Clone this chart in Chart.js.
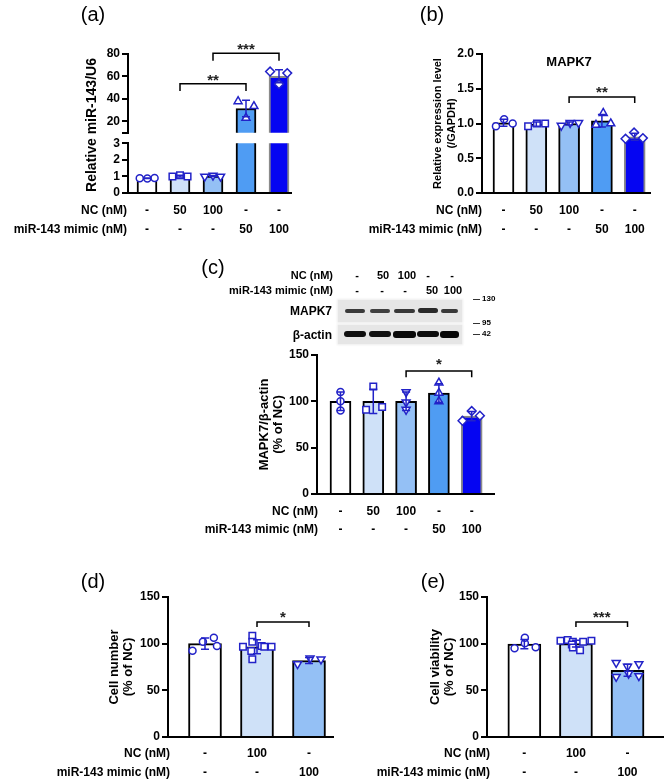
<!DOCTYPE html>
<html><head><meta charset="utf-8">
<script src="https://cdn.jsdelivr.net/npm/chart.js@4.4.1/dist/chart.umd.min.js"></script>
<style>
html,body{margin:0;padding:0;background:#fff;}
#wrap{position:relative;width:670px;height:783px;overflow:hidden;background:#fff;}
#wrap canvas{position:absolute;left:0;top:0;}
.box{position:absolute;background:#e6e6e6;box-shadow:0 0 2px 1px #ededed;}
.band{position:absolute;border-radius:3px;filter:blur(0.7px);}
.mk{position:absolute;height:1.5px;background:#333;}
</style></head>
<body><div id="wrap">
<div class="box" style="left:338px;top:300px;width:124px;height:22px"></div>
<div class="box" style="left:338px;top:325px;width:124px;height:19px"></div>
<div class="band" style="left:345px;top:308.5px;width:20px;height:4px;background:#3a3a3a"></div>
<div class="band" style="left:370px;top:309px;width:20px;height:3.5px;background:#404040"></div>
<div class="band" style="left:394px;top:308.5px;width:21px;height:4px;background:#383838"></div>
<div class="band" style="left:418px;top:308px;width:20px;height:4.5px;background:#2a2a2a"></div>
<div class="band" style="left:441px;top:308.5px;width:17px;height:4px;background:#3a3a3a"></div>
<div class="band" style="left:344px;top:331px;width:22px;height:6px;background:#0f0f0f"></div>
<div class="band" style="left:369px;top:331px;width:22px;height:6px;background:#111"></div>
<div class="band" style="left:393px;top:330.5px;width:23px;height:7px;background:#0a0a0a"></div>
<div class="band" style="left:417px;top:331px;width:22px;height:6px;background:#0d0d0d"></div>
<div class="band" style="left:440px;top:330.5px;width:19px;height:7px;background:#080808"></div>
<div class="mk" style="left:473px;top:298.5px;width:7px"></div>
<div class="mk" style="left:473px;top:322.5px;width:7px"></div>
<div class="mk" style="left:473px;top:333.5px;width:7px"></div>
</div>
<script>
const FONT = '"Liberation Sans", Arial, Helvetica, sans-serif';
const BLUE = '#2222c8';

// ---------- shared category rows ----------
const ncLabels5 = ['-', '50', '100', '-', '-'];
const mimicLabels5 = ['-', '-', '-', '50', '100'];
const ncLabels3 = ['-', '100', '-'];
const mimicLabels3 = ['-', '-', '100'];

// ---------- (a) relative miR-143/U6 ----------
const aMean = [0.89, 1.02, 1.02, 31.5, 60.2];
const aSD = [0.01, 0.05, 0.03, 7.4, 5.8];
const aPts = [[0.89, 0.88, 0.90], [0.99, 1.07, 0.99], [1.00, 1.06, 1.00], [37.9, 23.2, 33.5], [64.4, 53.3, 63.0]];
const aJit = [[-0.22, 0.01, 0.23], [-0.23, 0, 0.23], [-0.25, 0, 0.23], [-0.24, 0, 0.24], [-0.27, 0, 0.25]];
const aTopTicks = [10, 20, 40, 60, 80];
const aTopTickLabels = ['', '20', '40', '60', '80'];
const aBotTicks = [0, 1, 2, 3];
const aBotTickLabels = ['0', '1', '2', '3'];

// ---------- (b) MAPK7 mRNA ----------
const bMean = [1.01, 0.99, 1.00, 1.04, 0.81];
const bSD = [0.05, 0.03, 0.02, 0.09, 0.05];
const bPts = [[0.96, 1.06, 1.00], [0.96, 1.00, 1.00], [0.97, 1.01, 1.01], [0.98, 1.15, 1.00], [0.78, 0.87, 0.79]];
const bJit = [[-0.23, 0.02, 0.28], [-0.25, 0.02, 0.27], [-0.24, 0.03, 0.29], [-0.18, 0.04, 0.27], [-0.28, -0.02, 0.25]];
const bTicks = [0, 0.5, 1, 1.5, 2];
const bTickLabels = ['0.0', '0.5', '1.0', '1.5', '2.0'];

// ---------- (c) MAPK7/beta-actin ----------
const cMean = [100, 100, 100, 109, 84];
const cSD = [10, 13, 10, 10, 5];
const cPts = [[110, 100, 90], [116, 91, 94], [110, 99, 91], [120, 109, 100], [79, 89.5, 84.5]];
const cJit = [[0, 0, 0], [0, -0.22, 0.27], [0, 0, 0], [0, 0, 0], [-0.28, 0, 0.25]];
const pctTicks = [0, 50, 100, 150];
const pctTickLabels = ['0', '50', '100', '150'];

// ---------- (d) cell number ----------
const dMean = [100, 96.7, 82];
const dSD = [6, 7.5, 3.2];
const dPts = [[92.5, 102.1, 106.4, 97.5], [96.8, 108.6, 102.1, 92.1, 83.2, 97.5, 96.8, 96.8], [78.2, 84.3, 83.2]];
const dJit = [[-0.24, -0.04, 0.17, 0.23], [-0.27, -0.09, -0.09, -0.11, -0.09, 0.09, 0.14, 0.28], [-0.22, 0.02, 0.23]];

// ---------- (e) cell viability ----------
const eMean = [99.5, 100, 71.5];
const eSD = [5, 3.7, 6.5];
const ePts = [[95, 100.4, 106.4, 96.1], [103, 104, 102, 99, 96, 93, 102, 103], [79.6, 75.4, 78.2, 64.6, 68, 65.4]];
const eJit = [[-0.19, 0.01, 0.01, 0.22], [-0.3, -0.16, -0.06, -0.08, -0.06, 0.08, 0.14, 0.3], [-0.22, 0, 0.22, -0.22, 0.02, 0.22]];

// ---------- styles ----------
const FILL5 = ['#ffffff', '#cfe1f8', '#94c0f5', '#4f9cf3', '#0505f2'];
const EDGE5 = ['#000', '#000', '#000', '#000', '#8a8a8a'];
const FILL3 = ['#ffffff', '#cfe1f8', '#94c0f5'];
const EDGE3 = ['#000', '#000', '#000'];
const SHAPES5 = ['circle', 'rect', 'triangle', 'triangle', 'rectRot'];
const ROT5 = [0, 0, 180, 0, 0];
const SHAPES3 = ['circle', 'rect', 'triangle'];
const ROT3 = [0, 0, 180];
const RAD = {circle: 3.5, rect: 4.6, triangle: 4.6, rectRot: 4.4};

const wrap = document.getElementById('wrap');
const W = 670, H = 783, AXW = 40;

function annot(o) {
  return {
    id: 'annot',
    afterDatasetsDraw(chart) {
      const {ctx, chartArea: ca, scales: {x, y}} = chart;
      ctx.save();
      if (o.ptClip) {
        const c = o.ptClip;
        ctx.beginPath();
        ctx.rect(ca.left - c.left, ca.top - c.top, ca.right - ca.left + c.left + c.right, ca.bottom - ca.top + c.top + c.bottom);
        ctx.clip();
      }
      ctx.strokeStyle = BLUE; ctx.lineWidth = 1.5;
      const cap = o.cap || 4;
      o.mean.forEach((m, i) => {
        const px = x.getPixelForValue(i);
        const yt = y.getPixelForValue(m + o.sd[i]);
        const yb = y.getPixelForValue(m - o.sd[i]);
        ctx.beginPath();
        ctx.moveTo(px, yt); ctx.lineTo(px, yb);
        ctx.moveTo(px - cap, yt); ctx.lineTo(px + cap, yt);
        ctx.moveTo(px - cap, yb); ctx.lineTo(px + cap, yb);
        ctx.stroke();
      });
      ctx.restore();
    },
    afterDraw(chart) {
      const {ctx, chartArea: ca, scales: {x, y}} = chart;
      ctx.save();
      // significance brackets
      (o.brackets || []).forEach(b => {
        const x1 = x.getPixelForValue(b.from), x2 = x.getPixelForValue(b.to);
        const yl = y.getPixelForValue(b.level), yg = y.getPixelForValue(b.leg);
        ctx.strokeStyle = '#000'; ctx.lineWidth = 1.5;
        ctx.beginPath();
        ctx.moveTo(x1, yg); ctx.lineTo(x1, yl); ctx.lineTo(x2, yl); ctx.lineTo(x2, yg);
        ctx.stroke();
        const fs = 15;
        ctx.fillStyle = '#222';
        ctx.font = 'bold ' + fs + 'px ' + FONT;
        ctx.textAlign = 'center'; ctx.textBaseline = 'alphabetic';
        ctx.fillText(b.text, (x1 + x2) / 2, yl - (o.starGap || 8.5) + 0.57 * fs);
      });
      // category rows under the x axis
      if (o.rows) {
        ctx.fillStyle = '#000';
        ctx.font = 'bold 12px ' + FONT;
        ctx.textBaseline = 'middle';
        o.rows.forEach((row, r) => {
          const ry = ca.bottom + o.rowDy[r];
          ctx.textAlign = 'right';
          ctx.fillText(row.title, ca.left + (o.rowTitleDx || 0), ry);
          ctx.textAlign = 'center';
          row.labels.forEach((t, i) => ctx.fillText(t, x.getPixelForValue(i), ry));
        });
      }
      // rotated y title
      if (o.yTitle) {
        const t = o.yTitle;
        ctx.fillStyle = '#000';
        ctx.font = 'bold ' + t.size + 'px ' + FONT;
        ctx.textAlign = 'center'; ctx.textBaseline = 'middle';
        ctx.translate(t.cx, t.cy);
        ctx.rotate(-Math.PI / 2);
        const k = t.lines.length;
        t.lines.forEach((ln, j) => ctx.fillText(ln, 0, (j - (k - 1) / 2) * t.lh));
        ctx.setTransform(1, 0, 0, 1, 0, 0);
      }
      if (o.inner) {
        ctx.fillStyle = '#000';
        ctx.font = 'bold 13px ' + FONT;
        ctx.textAlign = 'center'; ctx.textBaseline = 'middle';
        ctx.fillText(o.inner.text, x.getPixelForValue(o.inner.x), y.getPixelForValue(o.inner.y));
      }
      ctx.restore();
    }
  };
}

function panel(o) {
  const cv = document.createElement('canvas');
  cv.width = W; cv.height = H;
  cv.style.width = W + 'px'; cv.style.height = H + 'px';
  wrap.appendChild(cv);
  const ds = [{
    type: 'bar', order: 2,
    data: o.mean.map((m, i) => ({x: i, y: m})),
    backgroundColor: o.fill, borderColor: o.edge, borderWidth: 2,
    borderSkipped: 'start', barThickness: o.barW,
    clip: o.barClip || false
  }];
  o.pts.forEach((arr, i) => {
    ds.push({
      type: 'scatter', order: 1, showLine: false,
      data: arr.map((v, j) => ({x: i + o.jit[i][j], y: v})),
      pointStyle: o.shapes[i], rotation: o.rot[i],
      pointRadius: RAD[o.shapes[i]], pointBorderWidth: 1.5,
      pointBorderColor: BLUE, pointBackgroundColor: '#ffffff',
      clip: o.ptClip || false
    });
  });
  return new Chart(cv, {
    type: 'bar',
    data: {datasets: ds},
    options: {
      responsive: false, animation: false, devicePixelRatio: 1, events: [],
      layout: {padding: {left: o.area.l - AXW, right: W - o.area.r, top: o.area.t, bottom: H - o.area.b}},
      plugins: {legend: {display: false}, tooltip: {enabled: false}},
      scales: {
        x: {
          type: 'linear', bounds: 'data', offset: false, min: o.xMin, max: o.xMax,
          grid: {display: false}, ticks: {display: false},
          border: {display: o.xAxis !== false, color: '#000', width: 2},
          afterFit: s => { s.height = 0; }
        },
        y: {
          type: 'linear', bounds: 'data', min: o.yMin, max: o.yMax,
          afterBuildTicks: s => { s.ticks = o.yTicks.map(v => ({value: v})); },
          ticks: {color: '#000', padding: 2, autoSkip: false, font: {family: FONT, size: 12, weight: 'bold'},
                  callback: (v, i) => o.yTickLabels[i]},
          grid: {display: true, drawOnChartArea: false, drawTicks: true, tickLength: 6, color: '#000', lineWidth: 2},
          border: {display: true, color: '#000', width: 2},
          afterFit: s => { s.width = AXW; }
        }
      }
    },
    plugins: [annot(o)]
  });
}

const rows5 = [{title: 'NC (nM)', labels: ncLabels5}, {title: 'miR-143 mimic (nM)', labels: mimicLabels5}];
const rows3 = [{title: 'NC (nM)', labels: ncLabels3}, {title: 'miR-143 mimic (nM)', labels: mimicLabels3}];
const common5 = {fill: FILL5, edge: EDGE5, shapes: SHAPES5, rot: ROT5};
const common3 = {fill: FILL3, edge: EDGE3, shapes: SHAPES3, rot: ROT3};

// (a) upper segment
panel(Object.assign({}, common5, {
  area: {l: 128, r: 291, t: 54, b: 132.7}, xMin: -0.5758, xMax: 4.3636, yMin: 10, yMax: 80,
  yTicks: aTopTicks, yTickLabels: aTopTickLabels, xAxis: false, barW: 20,
  mean: aMean, sd: aSD, pts: aPts, jit: aJit,
  barClip: {left: 5, right: 5, top: 5, bottom: 0}, ptClip: {left: 20, right: 20, top: 30, bottom: 0},
  brackets: [{from: 1, to: 3, level: 53.5, leg: 47, text: '**'}, {from: 2, to: 4, level: 80.6, leg: 74, text: '***'}],
  starGap: 7.5
}));
// (a) lower segment
panel(Object.assign({}, common5, {
  area: {l: 128, r: 291, t: 143.3, b: 193}, xMin: -0.5758, xMax: 4.3636, yMin: 0, yMax: 3,
  yTicks: aBotTicks, yTickLabels: aBotTickLabels, barW: 20,
  mean: aMean, sd: aSD, pts: aPts, jit: aJit,
  barClip: {left: 5, right: 5, top: 0, bottom: 5}, ptClip: {left: 20, right: 20, top: 0, bottom: 20},
  rows: rows5, rowDy: [17.5, 37], rowTitleDx: -1,
  yTitle: {lines: ['Relative miR-143/U6'], cx: 92, cy: 125, size: 14, lh: 14}
}));
// (b)
panel(Object.assign({}, common5, {
  area: {l: 482, r: 650, t: 54, b: 193}, xMin: -0.655, xMax: 4.466, yMin: 0, yMax: 2,
  yTicks: bTicks, yTickLabels: bTickLabels, barW: 21,
  mean: bMean, sd: bSD, pts: bPts, jit: bJit,
  brackets: [{from: 2, to: 4, level: 1.38, leg: 1.295, text: '**'}], starGap: 9,
  rows: rows5, rowDy: [17.5, 37],
  yTitle: {lines: ['Relative expression level', '(/GAPDH)'], cx: 445, cy: 123.5, size: 11, lh: 13.5},
  inner: {text: 'MAPK7', x: 2, y: 1.885}
}));
// (c)
panel(Object.assign({}, common5, {
  area: {l: 317, r: 494, t: 355, b: 494}, xMin: -0.716, xMax: 4.68, yMin: 0, yMax: 150,
  yTicks: pctTicks, yTickLabels: pctTickLabels, barW: 21,
  mean: cMean, sd: cSD, pts: cPts, jit: cJit,
  brackets: [{from: 2, to: 4, level: 132.7, leg: 126, text: '*'}], starGap: 11,
  rows: rows5, rowDy: [18, 36], rowTitleDx: 1,
  yTitle: {lines: ['MAPK7/β-actin', '(% of NC)'], cx: 271.5, cy: 424.5, size: 13, lh: 13.5}
}));
// (d)
panel(Object.assign({}, common3, {
  area: {l: 168, r: 333, t: 597, b: 737}, xMin: -0.7115, xMax: 2.4615, yMin: 0, yMax: 150,
  yTicks: pctTicks, yTickLabels: pctTickLabels, barW: 33,
  mean: dMean, sd: dSD, pts: dPts, jit: dJit,
  brackets: [{from: 1, to: 2, level: 123.2, leg: 117.9, text: '*'}], starGap: 9,
  rows: rows3, rowDy: [17, 36], rowTitleDx: 2,
  yTitle: {lines: ['Cell number', '(% of NC)'], cx: 121.5, cy: 667, size: 13, lh: 13.5}
}));
// (e)
panel(Object.assign({}, common3, {
  area: {l: 487, r: 667, t: 597, b: 737}, xMin: -0.724, xMax: 2.705, yMin: 0, yMax: 150,
  yTicks: pctTicks, yTickLabels: pctTickLabels, barW: 33,
  mean: eMean, sd: eSD, pts: ePts, jit: eJit,
  brackets: [{from: 1, to: 2, level: 123.2, leg: 117.9, text: '***'}], starGap: 9,
  rows: rows3, rowDy: [17, 36], rowTitleDx: 3,
  yTitle: {lines: ['Cell viability', '(% of NC)'], cx: 442.5, cy: 667, size: 13, lh: 14.5}
}));

// ---------- plain text (panel letters, blot labels) ----------
function addText(txt, x, y, size, weight, align) {
  const d = document.createElement('div');
  d.textContent = txt;
  const tx = align === 'right' ? '-100%' : align === 'left' ? '0' : '-50%';
  d.style.cssText = 'position:absolute;white-space:nowrap;line-height:1;color:#000;z-index:5;' +
    'font-family:' + FONT + ';font-size:' + size + 'px;font-weight:' + weight + ';' +
    'left:' + x + 'px;top:' + y + 'px;transform:translate(' + tx + ',-50%);';
  wrap.appendChild(d);
}
addText('(a)', 93, 14, 20, 'normal');
addText('(b)', 432, 14, 20, 'normal');
addText('(c)', 213, 267, 20, 'normal');
addText('(d)', 93, 581, 20, 'normal');
addText('(e)', 433, 581, 20, 'normal');

addText('NC (nM)', 333, 275, 11, 'bold', 'right');
addText('miR-143 mimic (nM)', 333, 290, 11, 'bold', 'right');
const blotRow1X = [357, 383, 407, 428, 452];
const blotRow2X = [357, 382, 405, 432, 453];
ncLabels5.forEach((t, i) => addText(t, blotRow1X[i], 275, 11, 'bold'));
mimicLabels5.forEach((t, i) => addText(t, blotRow2X[i], 290, 11, 'bold'));
addText('MAPK7', 332, 311, 12, 'bold', 'right');
addText('β-actin', 332, 335, 12, 'bold', 'right');
addText('130', 482, 299, 8, 'bold', 'left');
addText('95', 482, 323, 8, 'bold', 'left');
addText('42', 482, 334, 8, 'bold', 'left');
</script>
</body></html>
